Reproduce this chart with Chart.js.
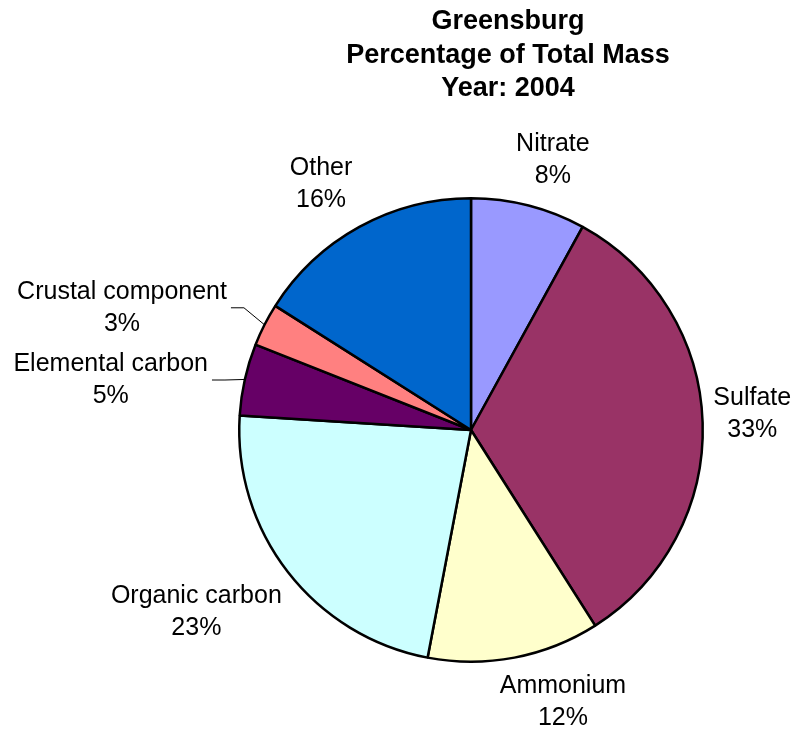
<!DOCTYPE html>
<html>
<head>
<meta charset="utf-8">
<title>Greensburg – Percentage of Total Mass, 2004</title>
<script src="https://cdn.jsdelivr.net/npm/chart.js@4/dist/chart.umd.min.js"></script>
<style>
  html, body { margin: 0; padding: 0; background: #ffffff; }
  #wrap { width: 795px; height: 731px; position: relative; }
</style>
</head>
<body>
<div id="wrap"><canvas id="c" width="795" height="731"></canvas></div>
<script>
// PM2.5 composition, Greensburg, 2004 (percent of total mass)
const components = ['Nitrate', 'Sulfate', 'Ammonium', 'Organic carbon', 'Elemental carbon', 'Crustal component', 'Other'];
const percentages = [8, 33, 12, 23, 5, 3, 16];
const sliceColors = ['#9999FF', '#993366', '#FFFFCC', '#CCFFFF', '#660066', '#FF8080', '#0066CC'];
const titleLines = ['Greensburg', 'Percentage of Total Mass', 'Year: 2004'];

// Label placement around the pie: angular nudge (deg) from the slice middle,
// distance of the label centre beyond the rim (px), and whether a leader line is drawn.
const labelLayout = [
  { turn: 2.5,  out: 50,  leader: false },
  { turn: -1.5, out: 50,  leader: false },
  { turn: -7.9, out: 55,  leader: false },
  { turn: 4.2,  out: 98,  leader: false },
  { turn: -4.7, out: 132, leader: true },
  { turn: -7.7, out: 138, leader: true },
  { turn: -2.6, out: 56,  leader: false }
];

const FONT_FAMILY = '"Liberation Sans", Arial, Helvetica, sans-serif';

const annotate = {
  id: 'annotate',
  afterDraw(chart) {
    const ctx = chart.ctx;
    const meta = chart.getDatasetMeta(0);
    ctx.save();

    // Title
    ctx.fillStyle = '#000';
    ctx.textAlign = 'center';
    ctx.textBaseline = 'middle';
    ctx.font = 'bold 27px ' + FONT_FAMILY;
    const titleY = [22, 56, 89];
    titleLines.forEach((t, i) => ctx.fillText(t, 508, titleY[i]));

    // Slice labels
    ctx.font = '25px ' + FONT_FAMILY;
    meta.data.forEach((arc, i) => {
      const { x, y, startAngle, endAngle, outerRadius } = arc.getProps(['x', 'y', 'startAngle', 'endAngle', 'outerRadius'], true);
      const mid = (startAngle + endAngle) / 2;
      const lay = labelLayout[i];
      const a = mid + lay.turn * Math.PI / 180;
      const d = outerRadius + lay.out;
      const cx = x + Math.cos(a) * d;
      const cy = y + Math.sin(a) * d;
      const name = components[i];
      const pct = percentages[i] + '%';
      ctx.fillStyle = '#000';
      ctx.fillText(name, cx, cy - 16);
      ctx.fillText(pct, cx, cy + 16);

      if (lay.leader) {
        const w = ctx.measureText(name).width;
        const right = cx + w / 2;
        const px = x + Math.cos(mid) * outerRadius;
        const py = y + Math.sin(mid) * outerRadius;
        ctx.strokeStyle = '#000';
        ctx.lineWidth = 1;
        ctx.beginPath();
        ctx.moveTo(px, py);
        ctx.lineTo(right + 17, cy);
        ctx.lineTo(right + 4, cy);
        ctx.stroke();
      }
    });
    ctx.restore();
  }
};

new Chart(document.getElementById('c'), {
  type: 'pie',
  data: {
    labels: components,
    datasets: [{
      data: percentages,
      backgroundColor: sliceColors,
      borderColor: '#000000',
      borderWidth: 2.5
    }]
  },
  options: {
    responsive: false,
    animation: false,
    layout: { padding: { left: 238, right: 91, top: 197, bottom: 68 } },
    plugins: {
      legend: { display: false },
      title: { display: false },
      tooltip: { enabled: false }
    }
  },
  plugins: [annotate]
});
</script>
</body>
</html>
